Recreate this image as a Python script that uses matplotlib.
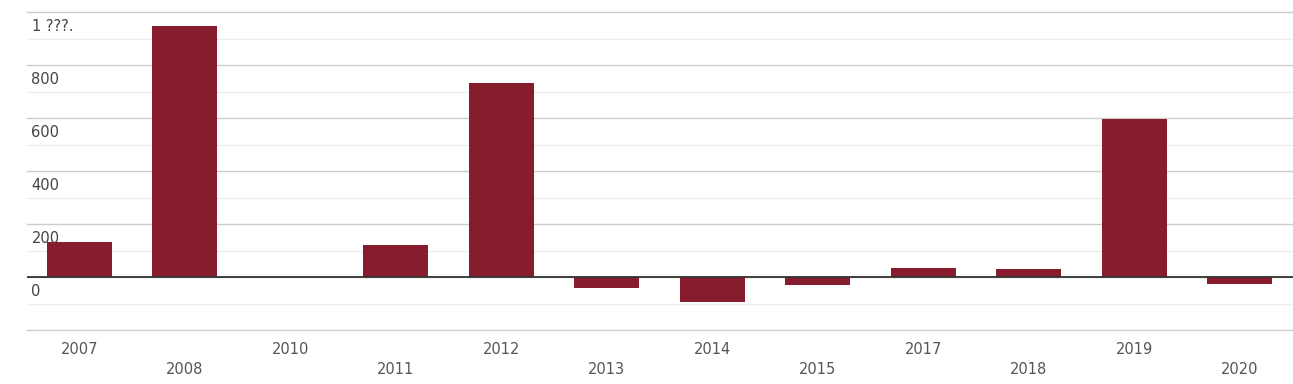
import matplotlib
matplotlib.use("Agg")
import matplotlib.pyplot as plt
import matplotlib.transforms as mtransforms

# 数据
years = ["2007", "2008", "2010", "2011", "2012", "2013", "2014", "2015", "2017", "2018", "2019", "2020"]
values = [132, 949, 0, 121, 733, -40, -93, -29, 34, 30, 597, -25]
ytick_vals = [1000, 800, 600, 400, 200, 0]
ytick_labels = ["1 ???.", "800", "600", "400", "200", "0"]

fig = plt.figure(figsize=(12.93, 3.84), dpi=100)
ax = fig.add_axes([26.5 / 1293, 54 / 384, 1266 / 1293, 318 / 384])

x = list(range(len(years)))
ax.bar(x, values, width=0.615, color="#861c2d", zorder=3)

ax.set_xlim(-0.5, len(years) - 0.5)
ax.set_ylim(-200, 1000)

# 网格线
for v in range(-200, 1001, 200):
    ax.axhline(v, color="#cccccc", lw=1, zorder=1, clip_on=False)
for v in range(-100, 1000, 200):
    ax.axhline(v, color="#ececec", lw=1, zorder=1)
ax.axhline(0, color="#333333", lw=1.3, zorder=4)

for s in ax.spines.values():
    s.set_visible(False)
ax.set_xticks([])
ax.set_yticks([])

# y 轴标签(在网格线下方)
trans_y = mtransforms.offset_copy(ax.get_yaxis_transform(), fig=fig, x=5, y=-7, units="dots")
for v, lab in zip(ytick_vals, ytick_labels):
    ax.text(0, v, lab, transform=trans_y, ha="left", va="top",
            fontsize=10.5, color="#444444")

# x 轴标签,交错两行
for i, yr in enumerate(years):
    off = -19 if i % 2 == 0 else -39
    t = mtransforms.offset_copy(ax.get_xaxis_transform(), fig=fig, x=0, y=off, units="dots")
    ax.text(i, 0, yr, transform=t, ha="center", va="center",
            fontsize=10.5, color="#555555")

fig.savefig("out.png", dpi=100)
